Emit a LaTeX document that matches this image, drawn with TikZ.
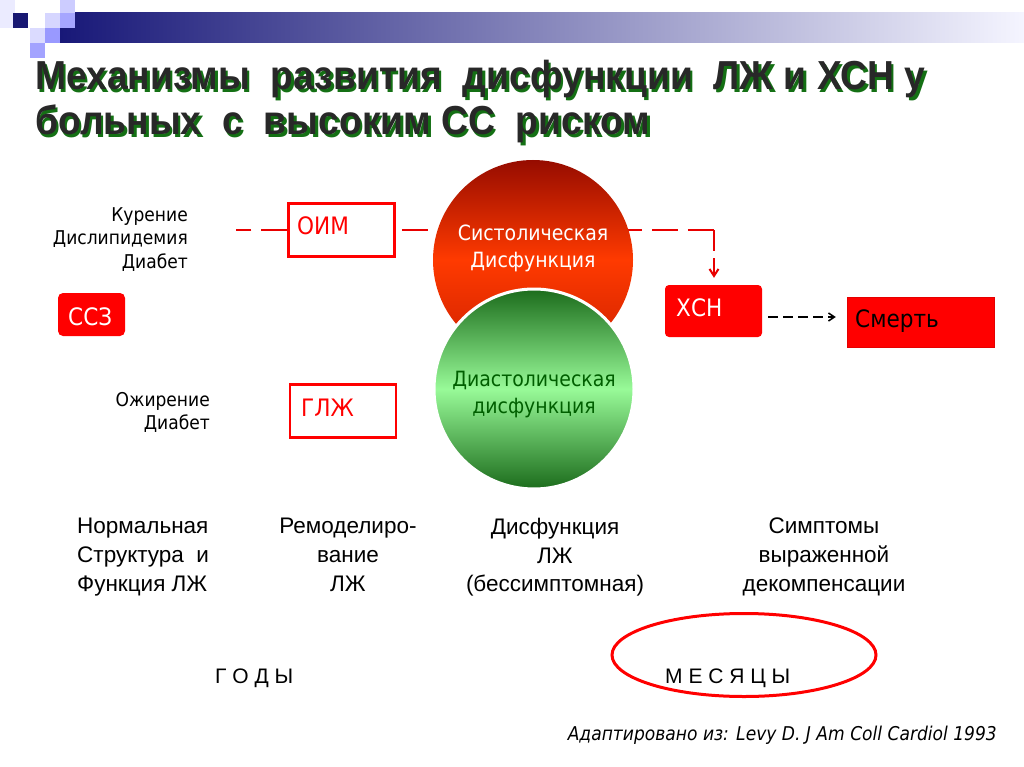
\documentclass[tikz,border=0pt]{standalone}
\usepackage{fontspec}
\setmainfont{DejaVu Sans}
\newfontfamily\diagfont{DejaVu Sans}[FakeStretch=0.9]
\newfontfamily\slidefont{Liberation Sans}
\newfontfamily\headfont{Liberation Sans}[FakeStretch=0.92]
\usetikzlibrary{arrows.meta,shapes.geometric,positioning}
\definecolor{cvdRed}{RGB}{255,0,0}
\definecolor{lineRed}{RGB}{232,0,0}
\definecolor{navyBar}{RGB}{24,24,120}
\definecolor{titleGreen}{RGB}{20,112,20}
\definecolor{titleGrey}{RGB}{40,40,40}
\definecolor{sysTop}{RGB}{150,12,0}
\definecolor{sysMid}{RGB}{255,58,0}
\definecolor{sysBot}{RGB}{205,32,0}
\definecolor{diaDark}{RGB}{28,108,28}
\definecolor{diaLight}{RGB}{152,250,152}
\definecolor{diaText}{RGB}{0,95,0}
\tikzset{riskbox/.style={fill=cvdRed, rounded corners=5pt, inner sep=0}}
\tikzset{stagebox/.style={draw=cvdRed, line width=2.7pt, minimum width=106pt, minimum height=53pt, inner sep=0}}
\tikzset{boxtext/.style={font=\diagfont\fontsize{24}{28}\selectfont, inner sep=0, anchor=base west}}
\tikzset{factors/.style={font=\diagfont\fontsize{19}{23.5}\selectfont, align=right, inner sep=0, anchor=north east}}
\tikzset{stage/.style={font=\slidefont\fontsize{22.5}{28.7}\selectfont, align=center, inner sep=0, anchor=north}}
\tikzset{dysfunction/.style={circle, minimum size=200pt, inner sep=0}}
\tikzset{circletext/.style={font=\diagfont\fontsize{21}{27}\selectfont, align=center, inner sep=0}}
\tikzset{headline/.style={font=\headfont\bfseries\fontsize{40.5}{45}\selectfont, align=left, inner sep=0, anchor=north west}}
\tikzset{timescale/.style={font=\slidefont\fontsize{21}{25}\selectfont, inner sep=0, anchor=base west}}
\tikzset{redflow/.style={draw=lineRed, line width=2.7pt, dash pattern=on 26pt off 9.75pt}}

\begin{document}
\begin{tikzpicture}[x=1pt, y=-1pt]
\pgfdeclarelayer{background}
\pgfsetlayers{background,main}
\useasboundingbox (0,0) rectangle (1024,767);
\begin{pgfonlayer}{background}
\fill[white] (0,0) rectangle (1024,767);
\end{pgfonlayer}

% Header bar
\shade[left color=navyBar, right color=white!96!blue] (60,13) rectangle (1024,43);
\fill[blue!8] (0,0) rectangle (15,28);
\fill[navyBar!95!black] (13,13) rectangle (28,28);
\fill[blue!16] (45,13) rectangle (60,28);
\fill[blue!20] (60,0) rectangle (75,13);
\fill[blue!35] (60,13) rectangle (75,28);
\fill[blue!14] (30,28) rectangle (45,43);
\fill[blue!40] (45,28) rectangle (60,43);
\fill[blue!36] (30,43) rectangle (45,58);

% Title
\node (titleShade) [headline, text=titleGreen] at (37.5,62.5) {Механизмы\ \ развития\ \ дисфункции\ \ ЛЖ и ХСН у\\больных\ \ с\ \ высоким СС\ \ риском};
\node (title) [headline, text=titleGrey] at (35,60) {Механизмы\ \ развития\ \ дисфункции\ \ ЛЖ и ХСН у\\больных\ \ с\ \ высоким СС\ \ риском};

% Risk factors
\node (smokingFactors) [factors] at (188,207) {Курение\\Дислипидемия\\Диабет};
\node (obesityFactors) [factors] at (210,392) {Ожирение\\Диабет};

\node (cvd) [riskbox, minimum width=67pt, minimum height=43pt] at (91.5,314.5) {};
\node (cvdText) [boxtext, text=white] at (68,325) {ССЗ};

\node (mi) [stagebox] at (341.5,230) {};
\node (miText) [boxtext, text=cvdRed] at (297,235) {ОИМ};
\node (lvh) [stagebox] at (343,411) {};
\node (lvhText) [boxtext, text=cvdRed] at (301,416) {ГЛЖ};

% Dysfunction circles
\node (systolic) [dysfunction, top color=sysTop, bottom color=sysBot, middle color=sysMid] at (533,260) {};
\node (systolicText) [circletext, text=white] at (533,248) {Систолическая\\Дисфункция};
\node (diastolic) [dysfunction, draw=white, line width=3pt, top color=diaDark, bottom color=diaDark, middle color=diaLight] at (534,389) {};
\node (diastolicText) [circletext, text=diaText] at (534,395) {Диастолическая\\дисфункция};

\node (chf) [riskbox, rounded corners=4pt, minimum width=97pt, minimum height=52pt] at (713.5,311) {};
\node (chfText) [boxtext, text=white] at (676,316) {ХСН};
\node (death) [fill=cvdRed, draw=red!90!black, minimum width=147pt, minimum height=50pt, inner sep=0] at (920.5,322) {};
\node (deathText) [boxtext, text=black] at (855,327) {Смерть};

% Stages
\node (normalStage) [stage, align=left, anchor=north west] at (77,518) {Нормальная\\Структура\ \ и\\Функция ЛЖ};
\node (remodelStage) [stage] at (348,518) {Ремоделиро-\\вание\\ЛЖ};
\node (dysfunctionStage) [stage] at (555,518) {Дисфункция\\ЛЖ\\(бессимптомная)};
\node (symptomStage) [stage] at (824,518) {Симптомы\\выраженной\\декомпенсации};

\node (years) [timescale] at (215,683) {Г О Д Ы};
\node (monthsRing) [ellipse, draw=cvdRed, line width=3pt, minimum width=264pt, minimum height=83pt, inner sep=0] at (744,655) {};
\node (months) [timescale] at (665,683) {М Е С Я Ц Ы};

\node (source) [font=\diagfont\itshape\fontsize{19}{23}\selectfont, inner sep=0, anchor=base east] at (997,740) {Адаптировано из: Levy D. J Am Coll Cardiol 1993};

% Connectors
\coordinate (riskStart) at (236,230);
\coordinate (chfCorner) at (714,230);
\begin{pgfonlayer}{background}
    \draw [redflow] (mi.west) -- (riskStart);
    \draw [redflow, dash phase=29.75pt] (mi.east) -- (chfCorner);
\end{pgfonlayer}
    \draw [redflow, line width=2pt, dash pattern=on 21pt off 7pt, -{Straight Barb[length=7pt, width=9pt]}, shorten >=7pt] (chfCorner) -- (chfCorner |- chf.north);
    \draw [black, line width=1.5pt, dash pattern=on 10pt off 5pt, -{Straight Barb[length=6pt, width=8pt]}, shorten <=6pt, shorten >=11pt] (chf.east |- 0,317) -- (death.west |- 0,317);

\end{tikzpicture}
\end{document}
